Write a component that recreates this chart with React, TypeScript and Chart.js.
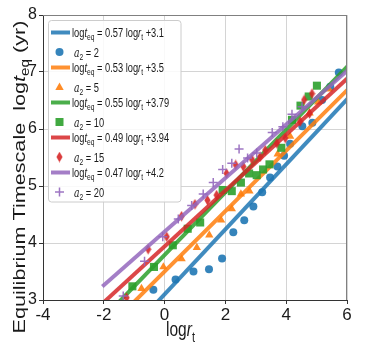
import React, { useEffect, useRef } from "react";
import { Chart, registerables } from "chart.js";
Chart.register(...registerables);

// ---- data ----
const a2Values = [2, 5, 10, 15, 20];
const fitSlopes = [0.57, 0.53, 0.55, 0.49, 0.47];
const fitIntercepts = [3.1, 3.5, 3.79, 3.94, 4.2];
const fitXRange = [-2, 6];

const a2x2 = [-0.37, 0.36, 0.95, 1.46, 1.89, 2.26, 2.62, 2.92, 3.21, 3.47, 3.71, 3.93, 4.13, 4.53, 4.86, 5.18, 5.45, 5.73];
const a2y2 = [3.18, 3.36, 3.5, 3.54, 3.73, 4.19, 4.4, 4.64, 4.89, 5.15, 5.34, 5.53, 5.74, 6.05, 6.11, 6.51, 6.74, 6.99];

const a2x5 = [-0.76, -0.04, 0.56, 1.06, 1.47, 1.86, 2.21, 2.51, 2.79, 3.72, 4.13, 4.77, 5.05, 5.4];
const a2y5 = [3.2, 3.58, 3.72, 3.92, 4.14, 4.4, 4.6, 4.86, 4.91, 5.56, 5.87, 6.28, 6.47, 6.7];

const a2x10 = [-1.06, -0.35, 0.27, 0.76, 1.17, 1.91, 2.21, 2.51, 2.78, 3.03, 3.24, 3.45, 3.84, 4.19, 4.47, 4.74, 5.01];
const a2y10 = [3.24, 3.58, 3.96, 4.25, 4.36, 4.93, 4.91, 5.06, 5.22, 5.19, 5.29, 5.38, 5.67, 6.16, 6.41, 6.57, 6.76];

const a2x15 = [-1.25, -0.54, 0.07, 0.56, 1.0, 1.41, 1.71, 2.04, 2.34, 2.59, 2.87, 3.14, 3.31, 3.69, 3.97, 4.46, 4.59, 4.77, 4.85];
const a2y15 = [3.04, 3.89, 4.11, 4.47, 4.68, 4.75, 4.84, 5.22, 5.37, 5.34, 5.47, 5.51, 5.63, 5.75, 5.84, 6.13, 6.51, 6.27, 6.62];

const a2x20 = [-1.36, -0.66, -0.06, 0.45, 0.89, 1.27, 1.6, 1.91, 2.21, 2.45, 2.73, 3.03, 3.54, 3.89, 4.19, 4.52];
const a2y20 = [3.07, 3.68, 4.11, 4.42, 4.66, 4.86, 5.06, 5.29, 5.4, 5.65, 5.49, 5.58, 5.94, 6.04, 6.26, 6.39];

const seriesX = [a2x2, a2x5, a2x10, a2x15, a2x20];
const seriesY = [a2y2, a2y5, a2y10, a2y15, a2y20];

const xTickValues = [-4, -2, 0, 2, 4, 6];
const yTickValues = [3, 4, 5, 6, 7, 8];

// ---- styles ----
const colors = ["31,119,180", "255,127,14", "44,160,44", "214,39,40", "148,103,189"];
const markerKinds = ["circle", "triangle", "rect", "diamond", "plus"];
const SANS = "'Liberation Sans', Arial, sans-serif";
const SERIF = "'DejaVu Serif', 'Liberation Serif', serif";

function diamondCanvas(rgb: string) {
  const c = document.createElement("canvas");
  c.width = 7;
  c.height = 11;
  const g = c.getContext("2d")!;
  g.fillStyle = `rgba(${rgb},0.9)`;
  g.beginPath();
  g.moveTo(3.5, 0.3);
  g.lineTo(6.6, 5.5);
  g.lineTo(3.5, 10.7);
  g.lineTo(0.4, 5.5);
  g.closePath();
  g.fill();
  return c;
}

type Seg = { t: string; font: string; dy?: number };
function segWidth(ctx: CanvasRenderingContext2D, segs: Seg[]) {
  let w = 0;
  for (const s of segs) {
    ctx.font = s.font;
    w += ctx.measureText(s.t).width;
  }
  return w;
}
function drawSegs(ctx: CanvasRenderingContext2D, segs: Seg[], x: number, y: number) {
  let cx = x;
  for (const s of segs) {
    ctx.font = s.font;
    ctx.fillText(s.t, cx, y + (s.dy || 0));
    cx += ctx.measureText(s.t).width;
  }
}

function drawMarker(ctx: CanvasRenderingContext2D, kind: string, x: number, y: number, rgb: string, diamond: HTMLCanvasElement) {
  ctx.save();
  ctx.fillStyle = `rgba(${rgb},0.9)`;
  ctx.strokeStyle = `rgba(${rgb},0.9)`;
  ctx.beginPath();
  if (kind === "circle") {
    ctx.arc(x, y, 4, 0, Math.PI * 2);
    ctx.fill();
  } else if (kind === "triangle") {
    ctx.moveTo(x, y - 4.6);
    ctx.lineTo(x + 4.2, y + 3);
    ctx.lineTo(x - 4.2, y + 3);
    ctx.closePath();
    ctx.fill();
  } else if (kind === "rect") {
    ctx.rect(x - 4, y - 4, 8, 8);
    ctx.fill();
  } else if (kind === "diamond") {
    ctx.drawImage(diamond, x - 3.5, y - 5.5);
  } else {
    ctx.lineWidth = 1.5;
    ctx.moveTo(x - 4.5, y);
    ctx.lineTo(x + 4.5, y);
    ctx.moveTo(x, y - 4.5);
    ctx.lineTo(x, y + 4.5);
    ctx.stroke();
  }
  ctx.restore();
}

export default function App() {
  const ref = useRef<HTMLCanvasElement | null>(null);
  useEffect(() => {
    if (!ref.current) return;
    const diamonds = colors.map((c) => diamondCanvas(c));
    const datasets: any[] = [];
    let k = 0;
    for (let i = 0; i < 5; i++) {
      const rgb = colors[i];
      datasets.push({
        label: `fit ${a2Values[i]}`,
        data: fitXRange.map((x) => ({ x, y: fitSlopes[i] * x + fitIntercepts[i] })),
        showLine: true,
        borderColor: `rgba(${rgb},0.85)`,
        backgroundColor: `rgba(${rgb},0.85)`,
        borderWidth: 4,
        borderCapStyle: "square",
        pointRadius: 0,
        clip: 0,
        order: 100 - k++,
      });
      const kind = markerKinds[i];
      const ds: any = {
        label: `a2 = ${a2Values[i]}`,
        data: seriesX[i].map((x, j) => ({ x, y: seriesY[i][j] })),
        showLine: false,
        backgroundColor: `rgba(${rgb},0.9)`,
        borderColor: `rgba(${rgb},0.9)`,
        borderWidth: 0,
        order: 100 - k++,
      };
      if (kind === "circle") {
        ds.pointStyle = "circle";
        ds.pointRadius = 4;
      } else if (kind === "triangle") {
        ds.pointStyle = "triangle";
        ds.pointRadius = 4.8;
      } else if (kind === "rect") {
        ds.pointStyle = "rect";
        ds.pointRadius = 5.7;
      } else if (kind === "diamond") {
        ds.pointStyle = diamonds[i];
        ds.pointRadius = 5;
      } else {
        ds.pointStyle = "cross";
        ds.pointRadius = 4.5;
        ds.borderWidth = 1.5;
      }
      datasets.push(ds);
    }

    const overlay = {
      id: "overlay",
      afterDraw(chart: any) {
        const ctx: CanvasRenderingContext2D = chart.ctx;
        const a = chart.chartArea;
        ctx.save();
        // top/right spines
        ctx.strokeStyle = "#808080";
        ctx.lineWidth = 1;
        ctx.beginPath();
        ctx.moveTo(a.left, a.top + 0.5);
        ctx.lineTo(a.right, a.top + 0.5);
        ctx.moveTo(a.right - 0.5, a.top);
        ctx.lineTo(a.right - 0.5, a.bottom);
        ctx.stroke();

        ctx.fillStyle = "#1a1a1a";
        ctx.textBaseline = "alphabetic";
        // y title
        const ySegs: Seg[] = [
          { t: "Equilibrium Timescale  log", font: `17px ${SANS}` },
          { t: "t", font: `italic 17px ${SANS}` },
          { t: "eq", font: `12px ${SANS}`, dy: 4 },
          { t: " (yr)", font: `17px ${SANS}` },
        ];
        const yw = segWidth(ctx, ySegs);
        const ysx = 313 / yw;
        ctx.save();
        ctx.translate(25, 177);
        ctx.rotate(-Math.PI / 2);
        ctx.scale(ysx, 1);
        drawSegs(ctx, ySegs, -yw / 2, 0);
        ctx.restore();

        // x title
        const xSegs: Seg[] = [
          { t: "log", font: `17px ${SANS}` },
          { t: "r", font: `italic 17px ${SANS}` },
          { t: "t", font: `12px ${SANS}`, dy: 5 },
        ];
        const xw = segWidth(ctx, xSegs);
        const xsx = 29 / xw;
        ctx.save();
        ctx.translate(180.5, 336);
        ctx.scale(xsx, 1.15);
        drawSegs(ctx, xSegs, -xw / 2, 0);
        ctx.restore();

        // legend
        const L = 48.5, T = 20.5, R = 181, B = 202;
        ctx.save();
        ctx.fillStyle = "rgba(255,255,255,0.85)";
        ctx.strokeStyle = "#cccccc";
        ctx.lineWidth = 1;
        ctx.beginPath();
        (ctx as any).roundRect(L, T, R - L, B - T, 3);
        ctx.fill();
        ctx.stroke();
        ctx.restore();

        const rowTop = 32.5;
        const rowStep = 35;
        const sub = 19.5;
        const fsz = 12;
        const sfont = `${fsz}px ${SANS}`;
        const subFont = `${fsz * 0.72}px ${SANS}`;
        const first: Seg[] = [
          { t: "log", font: sfont },
          { t: "t", font: `italic ${fsz}px ${SANS}` },
          { t: "eq", font: subFont, dy: 3 },
          { t: ` = ${fitSlopes[0]} log`, font: sfont },
          { t: "r", font: `italic ${fsz}px ${SANS}` },
          { t: "t", font: subFont, dy: 3 },
          { t: ` +${fitIntercepts[0]}`, font: sfont },
        ];
        const lsx = 92 / segWidth(ctx, first);
        ctx.fillStyle = "#1a1a1a";
        for (let i = 0; i < 5; i++) {
          const rgb = colors[i];
          const yl = rowTop + i * rowStep;
          ctx.save();
          ctx.strokeStyle = `rgba(${rgb},0.85)`;
          ctx.lineWidth = 4;
          ctx.beginPath();
          ctx.moveTo(51, yl);
          ctx.lineTo(70, yl);
          ctx.stroke();
          ctx.restore();
          const segs: Seg[] = [
            { t: "log", font: sfont },
            { t: "t", font: `italic ${fsz}px ${SANS}` },
            { t: "eq", font: subFont, dy: 3 },
            { t: ` = ${fitSlopes[i]} log`, font: sfont },
            { t: "r", font: `italic ${fsz}px ${SANS}` },
            { t: "t", font: subFont, dy: 3 },
            { t: ` +${fitIntercepts[i]}`, font: sfont },
          ];
          ctx.save();
          ctx.translate(72, yl + 4);
          ctx.scale(lsx, 1.1);
          ctx.fillStyle = "#1a1a1a";
          drawSegs(ctx, segs, 0, 0);
          ctx.restore();

          const ym = yl + sub;
          drawMarker(ctx, markerKinds[i], 59.5, ym, rgb, diamonds[i]);
          const msegs: Seg[] = [
            { t: "a", font: `italic ${fsz}px ${SERIF}` },
            { t: "2", font: subFont, dy: 3 },
            { t: ` = ${a2Values[i]}`, font: sfont },
          ];
          ctx.save();
          ctx.translate(74, ym + 4.5);
          ctx.scale(lsx, 1.1);
          ctx.fillStyle = "#1a1a1a";
          drawSegs(ctx, msegs, 0, 0);
          ctx.restore();
        }
        ctx.restore();
      },
    };

    const chart = new Chart(ref.current, {
      type: "scatter",
      data: { datasets },
      options: {
        animation: false,
        responsive: false,
        maintainAspectRatio: false,
        layout: { padding: { top: 15, right: 27, left: 0, bottom: 0 } },
        plugins: { legend: { display: false }, tooltip: { enabled: false } },
        scales: {
          x: {
            type: "linear",
            min: xTickValues[0],
            max: xTickValues[xTickValues.length - 1],
            afterBuildTicks: (s: any) => {
              s.ticks = xTickValues.map((v) => ({ value: v }));
            },
            ticks: {
              font: { size: 17, family: SANS },
              color: "#1a1a1a",
              padding: 1,
              callback: (v: any) => String(v),
            },
            grid: { color: "#d4d4d4", tickColor: "#333", tickLength: 4, lineWidth: 1 },
            border: { color: "#333", width: 1 },
            afterFit: (s: any) => {
              s.height = 54;
            },
          },
          y: {
            type: "linear",
            min: yTickValues[0],
            max: yTickValues[yTickValues.length - 1],
            afterBuildTicks: (s: any) => {
              s.ticks = yTickValues.map((v) => ({ value: v }));
            },
            ticks: {
              font: { size: 16, family: SANS },
              color: "#1a1a1a",
              padding: 2,
              callback: (v: any) => String(v),
            },
            grid: { color: "#d4d4d4", tickColor: "#333", tickLength: 4, lineWidth: 1 },
            border: { color: "#333", width: 1 },
            afterFit: (s: any) => {
              s.width = 43;
            },
          },
        },
      },
      plugins: [overlay],
    });
    return () => chart.destroy();
  }, []);
  return (
    <div style={{ position: "absolute", left: 0, top: 0, width: 374, height: 354, background: "#fff" }}>
      <canvas ref={ref} width={374} height={354} style={{ width: 374, height: 354, display: "block" }} />
    </div>
  );
}
